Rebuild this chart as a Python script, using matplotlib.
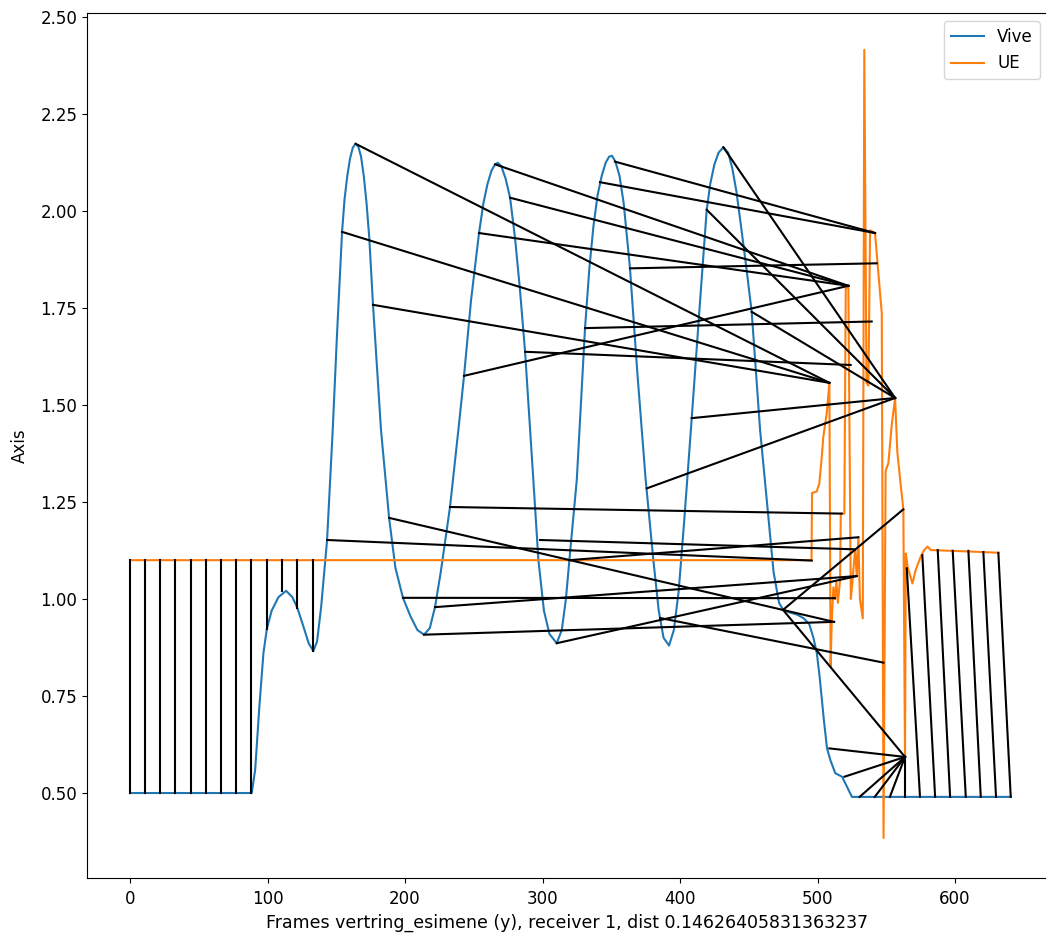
import numpy as np
import matplotlib
matplotlib.use("Agg")
import matplotlib.pyplot as plt

plt.rcParams['font.size'] = 12

# Vive signal (frame, value)
vive_x = [0, 88.5, 91, 94, 97, 99.5, 103, 108, 113.5, 118, 121.7, 126, 130, 133.3, 136, 139, 141,
          143.3, 147.4, 150.5, 154.2, 156, 158, 160, 162, 164, 166, 168, 170, 172, 174, 176.7,
          182.5, 188.4, 193, 198.5, 204, 209, 213.8, 218, 221.8, 226, 232.7, 238.8, 242.9, 248,
          253.8, 257, 260, 263, 265.5, 267.5, 270, 273, 276.4, 280, 283.5, 287.3, 293.3, 297, 301,
          305, 310.3, 314, 317, 319.5, 324.9, 330.9, 334, 337, 340, 343, 346, 348.5, 350.5, 353,
          356, 359, 363.6, 369, 375, 380.6, 384.5, 388, 392, 395.5, 399, 403, 408.5, 414, 419.4,
          422, 425, 428, 431.5, 435, 438, 441, 444, 448, 452.1, 458.2, 464, 468, 472, 475, 480,
          485, 490, 494, 497, 499.5, 501.5, 504.6, 506.9, 509.3, 512.9, 517.8, 520.2, 525, 640.5]
vive_y = [0.50, 0.50, 0.56, 0.72, 0.86, 0.923, 0.97, 1.005, 1.021, 1.005, 0.977, 0.93, 0.885, 0.866,
          0.89, 0.98, 1.06, 1.152, 1.436, 1.68, 1.946, 2.03, 2.09, 2.135, 2.163, 2.173, 2.166,
          2.14, 2.09, 2.02, 1.93, 1.758, 1.436, 1.209, 1.08, 1.003, 0.955, 0.92, 0.908, 0.925,
          0.979, 1.07, 1.237, 1.436, 1.575, 1.77, 1.943, 2.02, 2.07, 2.105, 2.12, 2.124, 2.115,
          2.085, 2.034, 1.93, 1.80, 1.637, 1.307, 1.10, 0.97, 0.91, 0.886, 0.92, 1.0, 1.10, 1.307,
          1.698, 1.85, 1.96, 2.04, 2.09, 2.125, 2.14, 2.142, 2.127, 2.09, 2.02, 1.852, 1.58, 1.307,
          1.10, 0.97, 0.90, 0.88, 0.92, 1.02, 1.20, 1.466, 1.74, 2.003, 2.07, 2.12, 2.15, 2.164,
          2.15, 2.11, 2.05, 1.97, 1.86, 1.74, 1.436, 1.22, 1.07, 0.99, 0.972, 0.965, 0.96, 0.95,
          0.935, 0.90, 0.86, 0.80, 0.688, 0.615, 0.585, 0.551, 0.542, 0.525, 0.49, 0.49]

# UE signal (frame, value)
ue_x = [0, 495.6, 496.0, 499.4, 501.3, 503.1, 504.2, 506.7, 508.6, 509.5, 510.3, 511.5, 512.7, 513.7,
        514.8, 516.4, 516.9, 519.5, 520.5, 522.4, 524.2, 525.5, 527.3, 528.5, 529.7, 530.8, 532.9,
        534.0, 535.6, 537.0, 538.2, 541.8, 546.7, 548.0, 549.5, 551.5, 554.0, 556.4, 558.0, 560.0,
        562.4, 563.6, 564.2, 565.5, 569.0, 571.4, 575.0, 577.5, 580.0, 582.4, 598.0, 620.0, 631.5]
ue_y = [1.10, 1.10, 1.273, 1.277, 1.298, 1.367, 1.418, 1.479, 1.557, 0.825, 0.94, 1.03, 1.00, 1.045,
        0.99, 1.05, 1.22, 1.22, 1.80, 1.807, 1.0, 1.05, 1.128, 1.059, 1.159, 1.0, 0.95, 2.415, 1.557,
        1.55, 1.95, 1.943, 1.736, 0.384, 1.33, 1.35, 1.45, 1.518, 1.38, 1.31, 1.231, 0.593, 1.117,
        1.083, 1.04, 1.075, 1.109, 1.126, 1.135, 1.126, 1.124, 1.121, 1.119]

# matched pairs: Vive frame/value -> UE frame/value
pair_vive_x = [0, 11, 22, 33, 44, 55, 66, 77, 88, 99.5, 110.5, 121.7, 132.9,
               143.3, 164.0, 154.2, 176.7, 188.4, 198.5, 213.8, 221.8, 232.7,
               265.5, 276.4, 253.8, 242.9, 287.3, 298.2, 310.3, 319.5,
               352.7, 341.8, 363.6, 330.9, 385.5,
               431.5, 419.4, 452.1, 408.5, 375.8, 474.9, 474.9,
               508.6, 519.6, 530.6, 541.6, 552.6, 563.6,
               574.5, 585.5, 596.4, 607.8, 618.7, 629.8, 640.5]
pair_vive_y = [0.50, 0.50, 0.50, 0.50, 0.50, 0.50, 0.50, 0.50, 0.50, 0.923, 1.02, 0.977, 0.866,
               1.152, 2.173, 1.946, 1.758, 1.209, 1.003, 0.908, 0.979, 1.237,
               2.12, 2.034, 1.943, 1.575, 1.637, 1.152, 0.886, 1.10,
               2.127, 2.074, 1.852, 1.698, 0.951,
               2.164, 2.003, 1.740, 1.466, 1.285, 0.972, 0.972,
               0.615, 0.542, 0.49, 0.49, 0.49, 0.49,
               0.49, 0.49, 0.49, 0.49, 0.49, 0.49, 0.49]
pair_ue_x = [0, 11, 22, 33, 44, 55, 66, 77, 88, 99.5, 110.5, 121.7, 132.9,
             495.8, 508.6, 508.6, 508.6, 512.0, 512.7, 512.0, 528.5, 517.6,
             522.4, 522.4, 522.4, 522.4, 524.1, 527.3, 528.5, 529.7,
             541.8, 541.8, 543.0, 539.4, 547.9,
             556.4, 556.4, 556.4, 556.4, 556.4, 562.4, 563.6,
             563.6, 563.6, 563.6, 563.6, 563.6, 563.6,
             564.9, 576.2, 587.4, 598.3, 609.7, 620.6, 631.5]
pair_ue_y = [1.10] * 13 + \
            [1.099, 1.557, 1.557, 1.557, 0.941, 1.002, 0.941, 1.059, 1.220,
             1.807, 1.807, 1.807, 1.807, 1.603, 1.128, 1.059, 1.159,
             1.943, 1.943, 1.865, 1.715, 0.836,
             1.518, 1.518, 1.518, 1.518, 1.518, 1.231, 0.593,
             0.593, 0.593, 0.593, 0.593, 0.593, 0.593,
             1.079, 1.113, 1.126, 1.124, 1.124, 1.121, 1.119]

fig = plt.figure(figsize=(10.46, 9.34), dpi=100)
ax = fig.add_axes([87 / 1046, 56 / 934, 961 / 1046, 865 / 934])

ax.plot(vive_x, vive_y, label="Vive")
ax.plot(ue_x, ue_y, label="UE")
for i in range(len(pair_vive_x)):
    ax.plot([pair_vive_x[i], pair_ue_x[i]], [pair_vive_y[i], pair_ue_y[i]], 'k')

ax.set_xlim(-31.3, 667.6)
ax.set_ylim(0.281, 2.51)
yt = np.arange(0.5, 2.51, 0.25)
ax.set_yticks(yt)
ax.set_yticklabels(["%.2f" % v for v in yt])
ax.tick_params(axis='x', pad=5.5)
ax.set_xlabel("Frames vertring_esimene (y), receiver 1, dist 0.14626405831363237",
              fontsize=12.5, labelpad=3.5)
ax.set_ylabel("Axis", labelpad=8)
ax.legend(loc="upper right")

fig.savefig("out.png", dpi=100)
